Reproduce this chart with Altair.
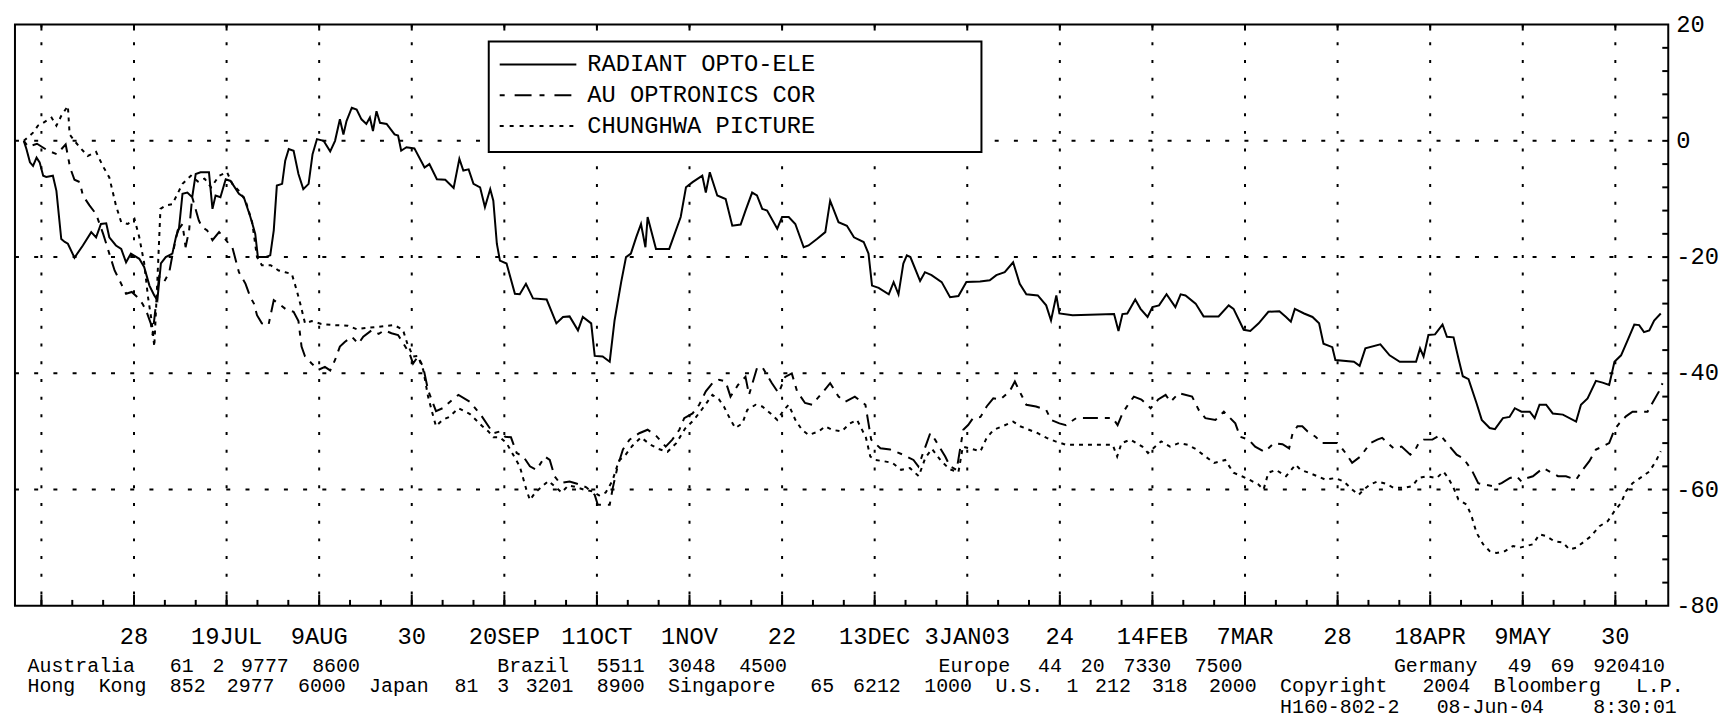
import altair as alt
import pandas as pd

# ---------------- data (day offset from 7 Jun 2002, % change) ----------------
BASE_DATE = "2002-06-07"
SERIES_NAMES = ["RADIANT OPTO-ELE", "AU OPTRONICS COR", "CHUNGHWA PICTURE"]

RADIANT = [(-4, 0), (-3.4, -1.4), (-2.6, -3.7), (-1.9, -4.3), (-1.1, -2.9), (-0.4, -3.7), (0.4, -6), (1.1, -6.2),
           (2.6, -6), (3.4, -8.6), (4.5, -16.9), (5.3, -17.4), (6, -17.7), (7.5, -20.1), (9.4, -18), (11.3, -15.7),
           (12.4, -16.6), (13.5, -14.3), (14.7, -14.2), (15.4, -16.6), (16.9, -18), (18.1, -18.6), (19.2, -20.9),
           (20.3, -19.4), (22.2, -20.3), (23.3, -21.7), (24.5, -24.9), (25.6, -26.6), (26.3, -27.4), (27.1, -21.1),
           (28.2, -20), (29.7, -19.4), (30.5, -16.6), (31.2, -15.1), (32, -9.1), (33.1, -8.9), (34.2, -9.7),
           (35, -5.7), (36.1, -5.4), (38, -5.4), (38.8, -11.7), (39.5, -9.4), (40.6, -9.7), (41.8, -6.6),
           (42.9, -6.9), (44.8, -9.1), (45.9, -9.7), (47.4, -13.1), (48.5, -16), (49.1, -20), (50.8, -20),
           (51.9, -19.7), (52.7, -15.4), (53.4, -7.7), (54.6, -7.4), (55.3, -3.4), (56.1, -1.4), (57.2, -1.7),
           (58.3, -5.7), (59.4, -8.3), (60.6, -7.4), (61.5, -2.3), (62.5, 0.3), (64, 0), (65.5, -1.8), (66.6, 0),
           (67.7, 3.7), (68.5, 1.1), (69.2, 3.4), (70.4, 5.7), (71.5, 5.4), (72.6, 3.7), (73.7, 2.9), (74.5, 4),
           (75.2, 1.7), (76, 5.1), (76.8, 3.1), (78.3, 2.9), (80.1, 1.1), (80.9, 0.9), (81.6, -1.7), (82.8, -1.1),
           (84.6, -1.3), (86.9, -4.6), (88, -4), (89.7, -6.6), (91.6, -6.7), (93.5, -8.1), (94.8, -3.1),
           (95.7, -5.1), (96.9, -4.9), (98, -7.4), (99.5, -8), (100.6, -11.4), (101.8, -8.3), (102.5, -10.3),
           (103.3, -17.7), (104, -20.6), (105.5, -21.1), (107.4, -26.3), (108.5, -26.4), (109.9, -24.6),
           (111.5, -27.1), (114.6, -27.3), (116.8, -31.4), (118.3, -30.3), (119.8, -30.2), (121.7, -32.6),
           (122.8, -30.3), (124.7, -31.4), (125.5, -37), (127.3, -37.1), (128.9, -38), (130, -30.9),
           (131.5, -24.3), (132.6, -20), (133.7, -19.4), (134.9, -16.6), (136, -14.3), (137, -18.3),
           (137.5, -13.1), (139.4, -18.6), (142.4, -18.6), (145, -13.1), (146.2, -8), (147.7, -7.1), (149.9, -6),
           (150.7, -8.9), (151.6, -5.4), (153.3, -9.4), (155.2, -10), (156.7, -14.6), (158.6, -14.4), (159.7, -12),
           (161.2, -8.9), (162.3, -9.4), (163.5, -11.7), (164.6, -12), (166.9, -15.1), (168, -13.1),
           (169.5, -13.1), (171, -14.3), (172.9, -18.3), (174, -18), (175.9, -16.9), (177.8, -15.7),
           (178.9, -10.3), (180.8, -14), (182.7, -14.6), (184.3, -16.6), (186.5, -17.4), (187.6, -19.4),
           (188.4, -24.9), (189.9, -25.3), (192.2, -26.4), (193.3, -24.3), (194.4, -26.4), (195.5, -21.1),
           (196.3, -19.7), (197.1, -20), (199.3, -24.1), (200.4, -22.6), (201.9, -23.1), (204.2, -24.3),
           (206.1, -26.9), (208, -26.7), (209.8, -24.3), (212.9, -24.2), (215.1, -24), (216.6, -23.1),
           (218.5, -22.6), (220.4, -20.9), (221.9, -24.6), (223.4, -26.4), (226, -26.6), (227.9, -28.3),
           (229, -30.9), (230.2, -26.6), (230.9, -29.7), (233.9, -30), (243.3, -29.8), (244.3, -32.7),
           (245.2, -29.8), (246.3, -29.7), (248.1, -27.3), (249.3, -28.9), (250.9, -30.3), (252, -28.6),
           (253.5, -28.3), (255.2, -26.4), (257.2, -28.6), (258.4, -26.4), (259.5, -26.6), (261.8, -28),
           (263.6, -30.2), (267, -30.2), (269.3, -28.3), (270.4, -28.9), (272.7, -32.5), (274.2, -32.7),
           (276.1, -31.4), (278.3, -29.4), (280.8, -29.3), (282.3, -30.3), (283.4, -31.1), (284.3, -28.9),
           (286.4, -29.7), (288.3, -30.3), (289.8, -31.4), (290.8, -34.9), (292.8, -35.5), (293.5, -37.7),
           (297.7, -38), (299, -38.7), (300.3, -35.7), (303.7, -35), (305.8, -36.9), (308.1, -38), (311.8, -38),
           (312.7, -35.7), (313.5, -37.1), (314.6, -33.4), (316.1, -33.3), (317.8, -31.6), (318.8, -33.7),
           (320.3, -33.8), (321.4, -37.4), (322.4, -40.5), (323.7, -41), (325.5, -45.1), (326.7, -48),
           (328.5, -49.4), (329.7, -49.6), (331.5, -47.7), (333, -47.5), (334.2, -46), (335.7, -46.6),
           (337.6, -46.6), (338.7, -47.7), (339.8, -45.4), (341.3, -45.4), (342.8, -46.9), (345.1, -47.1),
           (348.1, -48.3), (349.2, -45.4), (350.7, -44.3), (352.6, -41.3), (354.1, -41.6), (355.6, -42),
           (356.8, -38), (358.3, -36.9), (359.8, -34.3), (361.3, -31.6), (362.4, -31.7), (363.5, -32.9),
           (364.7, -32.6), (365.8, -30.9), (367.3, -29.7)]

AU_OPTRONICS = [(-4, 0), (-3, -1), (-1, -0.5), (1.5, -1.7), (3.5, -2.3), (5.5, -0.6), (6.5, -4.6), (7.5, -6.7),
                (8.7, -7.1), (9.4, -9.4), (10.9, -11.1), (12.4, -12.6), (14, -16), (15.4, -19.4), (16.6, -22.3),
                (18.1, -24.6), (19.2, -26.3), (20.5, -26), (21.8, -26.9), (22.9, -28), (23.7, -29.1),
                (24.8, -31.4), (25.2, -33.4), (26, -28), (26.7, -23.4), (27.8, -24.3), (29, -22.6), (29.7, -19.7),
                (30.9, -15.4), (32, -14.3), (32.7, -18.3), (33.5, -15.4), (34.2, -9.7), (35.7, -13.7),
                (36.5, -14.9), (37.6, -15.4), (38.8, -17.1), (40.3, -15.7), (41.4, -16.6), (42.5, -17.7),
                (43.3, -18.3), (44.8, -22.6), (46.3, -24.6), (47.4, -26.9), (48.2, -28), (48.9, -30), (50, -31.4),
                (51.5, -31.7), (52.7, -27.4), (53.8, -28), (55.5, -29), (57.2, -29.4), (58.3, -31), (59, -35.4),
                (59.8, -37.1), (61.3, -38.3), (62.8, -39.4), (64.3, -38.9), (65.5, -39.5), (66.6, -37.7),
                (67.7, -35.4), (68.8, -34.6), (70.4, -33.7), (71.9, -34.9), (73, -33.7), (74.9, -32.6),
                (76.5, -33.2), (77.8, -32.6), (79.4, -33.1), (80.9, -33.4), (82.2, -35), (83.5, -36.6),
                (84.3, -38.3), (85.4, -37.1), (86.6, -38.9), (87.7, -42.9), (88.5, -44.5), (89.5, -46.5),
                (91, -46), (92.5, -45), (94.6, -43.7), (97.2, -44.9), (99.9, -47.4), (101.4, -49.1),
                (102.5, -50.3), (104, -50), (105.2, -50.9), (106.5, -51), (107.8, -53.7), (109.3, -54.3),
                (110.8, -56), (112.3, -56.6), (114.2, -54.3), (115.3, -54.9), (116.4, -57.7), (117.6, -58.9),
                (119.8, -58.6), (121.5, -59), (123.6, -59.6), (125.5, -60.9), (126.2, -62.6), (128.9, -62.6),
                (129.6, -59.7), (130.7, -56), (131.9, -53.1), (133.4, -51.4), (135.6, -50.3), (137.5, -49.7),
                (139.5, -50.8), (141.6, -52.6), (143.1, -51.4), (144.7, -49.7), (145.8, -47.7), (147.7, -46.9),
                (149.2, -45.4), (150.7, -43.1), (152.2, -41.7), (153.7, -41.1), (155.2, -41.4), (156.3, -44),
                (158, -42), (159.7, -40.6), (160.5, -43.7), (162.3, -39.1), (163.5, -38.9), (165.7, -41.7),
                (167.2, -43.4), (168.7, -40.6), (170.2, -40), (171.4, -43.1), (173.2, -45.1), (174.8, -45.4),
                (177.4, -43.1), (178.9, -41.7), (180.8, -44), (182.3, -44.9), (184.5, -44), (186.9, -45.4),
                (187.6, -48.6), (188.2, -51.4), (190.3, -52.9), (192.5, -53.1), (195.5, -54), (197.8, -54.9),
                (198.9, -56), (199.7, -54.3), (200.8, -52), (201.6, -50.3), (202.7, -51.4), (205, -54.3),
                (206.1, -56), (207.6, -56.6), (209.1, -49.7), (210.2, -48.9), (211.3, -47.7), (213, -47.5),
                (214.4, -45.7), (215.9, -44.3), (217.5, -44.5), (219.6, -43.1), (220.8, -41.4), (221.8, -43),
                (223.4, -45.4), (225.6, -45.7), (227.9, -46.3), (229, -48), (230.9, -48.6), (232.4, -48.9),
                (234.7, -47.7), (240, -47.7), (243, -47.7), (244.1, -48.9), (245.2, -46.9), (246.7, -45.1),
                (247.8, -44), (249.5, -44.5), (251.6, -46), (253.3, -44.5), (255, -43.7), (256.1, -44.9),
                (258, -43.4), (261, -44), (262.5, -46.3), (264, -47.7), (266.3, -48), (268.2, -46.6),
                (270.8, -48.6), (271.9, -50.9), (273.8, -51.4), (275.3, -52.6), (277.4, -53.5), (279.6, -52),
                (281.5, -52.2), (283, -52.9), (283.8, -50.3), (284.9, -49.1), (286, -49.1), (287.2, -50),
                (289, -50.9), (290.5, -52), (293.9, -52), (295, -52.9), (295.8, -53.7), (297.3, -55.4),
                (299.2, -54.3), (301.4, -52), (303, -51.4), (304.1, -51.1), (306.7, -52.9), (308.5, -52.6),
                (310.5, -54), (311.5, -53.3), (312.4, -52), (313.5, -51.4), (315.5, -51.4), (317.3, -50.6),
                (318.8, -52), (321, -54), (322.5, -54.6), (324.4, -56.6), (325.9, -58.9), (327, -59.1),
                (329.3, -59.4), (331.2, -58.9), (333.1, -58), (334.6, -57.7), (335.7, -58.6), (337, -58),
                (338.3, -57.7), (340.6, -56.3), (342.1, -56.9), (344, -57.7), (345.8, -57.7), (348.1, -58.3),
                (349.6, -56.6), (351.1, -55.1), (352.6, -53.1), (354.1, -52.6), (355.6, -52), (356.8, -49.7),
                (357.9, -48.6), (359.4, -47.4), (360.9, -46.6), (364.3, -46.6), (365.4, -45.1), (366.9, -43.1),
                (367.7, -41.7)]

CHUNGHWA = [(-4, 0), (-1.9, 1.4), (-0.8, 2.6), (0.4, 3.1), (2.3, 4), (3.4, 2.6), (4.5, 4.3), (6, 6), (6.4, 1.1),
            (7.5, 0), (8.7, -1.1), (10.5, -2.6), (12.4, -1.9), (13.9, -4.3), (15.4, -6.3), (16.9, -11.1),
            (18.1, -14), (19.6, -14.3), (21.1, -13.4), (22.2, -16.6), (23.3, -21), (24.2, -27), (25, -31),
            (25.6, -35.4), (26.3, -24), (27, -11.7), (28.2, -11.1), (29.7, -10.9), (31.2, -8.6), (32, -7.4),
            (33.9, -6), (35.5, -7), (37, -6.5), (38.5, -8), (40.3, -6), (42.1, -5.4), (43.3, -7.4), (44.8, -8.6),
            (46.3, -10.3), (47, -12), (47.8, -14), (48.9, -20), (50, -21.4), (52, -21.4), (53.8, -22.3),
            (55.3, -22.6), (56.8, -22.9), (57.9, -25.7), (58.7, -28), (59.8, -31.4), (61.3, -31), (63.5, -31.5),
            (66.5, -31.7), (69.5, -31.8), (71.5, -32.4), (73.5, -32.2), (76.5, -32), (80, -31.7), (82, -32.5),
            (83, -34.9), (84.3, -37.1), (85.4, -37), (86.6, -39.4), (87.7, -44), (88.7, -46.9), (89.5, -49.1),
            (91, -48), (92.5, -47.5), (94.6, -46), (97.2, -47), (99.9, -49), (101.4, -50), (102.5, -51),
            (104, -51), (105.5, -52), (107, -54), (108.5, -56), (110, -60), (110.8, -61.8), (112, -60.5),
            (113.5, -59.5), (115, -58.5), (116.5, -59.5), (118, -60.5), (119.5, -59.3), (121, -59.5), (123, -60),
            (125, -60.3), (126.5, -61), (128, -60.5), (129.5, -58.5), (131, -55), (132.5, -54), (134, -52.5),
            (136, -51), (138, -52.2), (140, -53), (142, -53.5), (144, -52), (146, -49.5), (148, -48), (150, -46),
            (152.2, -43.7), (153.7, -44.5), (154.8, -45.7), (156.3, -48), (157.4, -49.4), (159, -48.6),
            (160.1, -46.3), (162, -45.4), (163.5, -45.7), (165.7, -47.1), (166.9, -48), (168.4, -46.3),
            (169.5, -45.4), (171, -48), (172.5, -49.7), (174, -50.6), (176.3, -50), (177.8, -49.1), (179.3, -49.7),
            (181.5, -50), (183.4, -48.6), (185, -48), (187, -51), (188, -54.3), (189, -54.9), (191, -55.1),
            (193, -55.4), (195, -56.6), (197, -56.3), (199, -57.7), (200.5, -54.5), (202, -53), (204, -55),
            (206, -56.5), (208, -57), (209, -52.6), (211, -53), (213, -53.4), (214.4, -51.1), (216, -49.7),
            (218, -49.1), (220.4, -48.3), (222, -49.1), (224, -49.7), (226, -50.3), (228, -51.1), (230, -51.7),
            (232.4, -52.3), (243, -52.3), (244, -54.3), (245, -52), (247, -51.4), (249.7, -52.6), (251, -53.7),
            (254, -51.7), (256, -52.6), (258, -52), (260, -52.3), (262, -53.1), (264, -54.3), (266, -55.4),
            (268.5, -54.9), (270.4, -57.1), (272.3, -57.7), (274, -58.3), (276, -59.1), (277.2, -60),
            (278.3, -57.1), (280, -56.6), (282.3, -57.7), (284.5, -55.7), (285.6, -56.6), (287.5, -57.1),
            (289.4, -57.7), (291.3, -58.3), (293.5, -58), (295.4, -58.6), (297.3, -60), (298.8, -60.9),
            (299.9, -60), (301.4, -59.1), (303, -58.6), (305, -59), (306.7, -59.7), (309, -59.7), (310.9, -59.4),
            (312.4, -58), (314.2, -57.7), (316.5, -58), (318, -56.9), (319.1, -58), (320.3, -59.7), (321.4, -61.7),
            (323.3, -62.6), (324.4, -64.6), (325.5, -67.4), (327, -69.4), (328.5, -70.6), (330, -70.9),
            (331.9, -70.6), (333.8, -69.7), (335.3, -70), (336.8, -69.7), (338.3, -69.4), (339.8, -67.7),
            (341.3, -68), (343.2, -68.9), (345.1, -69.1), (346.6, -70.3), (348.1, -70), (350, -68.9), (351.5, -68),
            (353.4, -66.3), (355.3, -65.4), (356.8, -63.7), (358.3, -62.3), (359.4, -60.3), (360.9, -58.9),
            (363.2, -57.7), (364.7, -56.9), (366.2, -55.1), (367.3, -53.4)]

TICK_DATES = ["2002-06-07", "2002-06-28", "2002-07-19", "2002-08-09", "2002-08-30", "2002-09-20", "2002-10-11",
              "2002-11-01", "2002-11-22", "2002-12-13", "2003-01-03", "2003-01-24", "2003-02-14", "2003-03-07",
              "2003-03-28", "2003-04-18", "2003-05-09", "2003-05-30"]
TICK_LABELS = ["", "28", "19JUL", "9AUG", "30", "20SEP", "11OCT", "1NOV", "22", "13DEC", "3JAN03", "24",
               "14FEB", "7MAR", "28", "18APR", "9MAY", "30"]
Y_TICKS = [20, 0, -20, -40, -60, -80]
Y_TICK_LABELS = ["20", "0", "-20", "-40", "-60", "-80"]
Y_GRID = [0, -20, -40, -60]

# footer words with their character column in the fixed-pitch footer
FOOTER_1 = [("Australia", 0), ("61", 10), ("2", 13), ("9777", 15), ("8600", 20),
            ("Brazil", 33), ("5511", 40), ("3048", 45), ("4500", 50),
            ("Europe", 64), ("44", 71), ("20", 74), ("7330", 77), ("7500", 82),
            ("Germany", 96), ("49", 104), ("69", 107), ("920410", 110)]
FOOTER_2 = [("Hong", 0), ("Kong", 5), ("852", 10), ("2977", 14), ("6000", 19), ("Japan", 24), ("81", 30),
            ("3", 33), ("3201", 35), ("8900", 40), ("Singapore", 45), ("65", 55), ("6212", 58), ("1000", 63),
            ("U.S.", 68), ("1", 73), ("212", 75), ("318", 79), ("2000", 83), ("Copyright", 88), ("2004", 98),
            ("Bloomberg", 103), ("L.P.", 113)]
FOOTER_3 = [("H160-802-2", 88), ("08-Jun-04", 99), ("8:30:01", 110)]

# ---------------- layout / style ----------------
W, H = 1661, 584
FONT = "Liberation Mono"
FS = 23.85
FOOT_FS = 20
PITCH = 14.3
FOOT_X0 = 12.6
FOOT_Y = [H + 60, H + 81, H + 101.5]

ONE = pd.DataFrame({"k": [0]})


def iso(day):
    t = pd.Timestamp(BASE_DATE) + pd.Timedelta(days=float(day))
    return t.strftime("%Y-%m-%dT%H:%M:%SZ")


X_SCALE = alt.Scale(type="utc", domain=[alt.DateTime(year=2002, month=6, date=1, utc=True),
                                        alt.DateTime(year=2003, month=6, date=11, utc=True)])
Y_SCALE = alt.Scale(domain=[-80, 20], nice=False, zero=False)


def xenc(field="date"):
    return alt.X(f"{field}:T", scale=X_SCALE, axis=None)


def yenc(field="value"):
    return alt.Y(f"{field}:Q", scale=Y_SCALE, axis=None)


def series_layer(pairs, dash):
    df = pd.DataFrame({"date": [iso(d) for d, _ in pairs], "value": [v for _, v in pairs],
                       "i": list(range(len(pairs)))})
    kw = dict(color="black", strokeWidth=2, strokeJoin="miter")
    if dash:
        kw["strokeDash"] = dash
    return alt.Chart(df).mark_line(**kw).encode(x=xenc(), y=yenc(), order="i:Q")


def word_layer(words, x0, pitch, y, size):
    df = pd.DataFrame({"word": [w for w, _ in words], "px": [x0 + c * pitch for _, c in words]})
    return alt.Chart(df).mark_text(font=FONT, fontSize=size, color="black", align="left",
                                   baseline="middle").encode(
        x=alt.X("px:Q", scale=None, axis=None), y=alt.value(y), text="word:N")


major_df = pd.DataFrame({"date": [d + "T00:00:00Z" for d in TICK_DATES], "label": TICK_LABELS})
minor_dates = pd.date_range("2002-06-07", "2003-06-06", freq="7D")
minor_df = pd.DataFrame({"date": [d.strftime("%Y-%m-%dT00:00:00Z") for d in minor_dates]})
rtick_df = pd.DataFrame({"value": list(range(-76, 20, 4))})
hgrid_df = pd.DataFrame({"value": Y_GRID})
ylab_df = pd.DataFrame({"value": Y_TICKS, "label": Y_TICK_LABELS})

vgrid = alt.Chart(major_df).mark_rule(color="black", strokeWidth=2, strokeDash=[3, 14.8]).encode(
    x=xenc(), y=alt.value(0), y2=alt.value(H))
hgrid = alt.Chart(hgrid_df).mark_rule(color="black", strokeWidth=2, strokeDash=[4, 15.3]).encode(
    y=yenc(), x=alt.value(0), x2=alt.value(W))
minor_ticks = alt.Chart(minor_df).mark_rule(color="black", strokeWidth=2).encode(
    x=xenc(), y=alt.value(H), y2=alt.value(H - 6))
major_ticks = alt.Chart(major_df).mark_rule(color="black", strokeWidth=2).encode(
    x=xenc(), y=alt.value(H), y2=alt.value(H - 11))
top_ticks = alt.Chart(major_df).mark_rule(color="black", strokeWidth=2).encode(
    x=xenc(), y=alt.value(0), y2=alt.value(6))
right_ticks = alt.Chart(rtick_df).mark_rule(color="black", strokeWidth=2).encode(
    y=yenc(), x=alt.value(W - 6), x2=alt.value(W))

x_labels = alt.Chart(major_df).mark_text(font=FONT, fontSize=FS, color="black", align="center",
                                          baseline="middle").encode(
    x=xenc(), y=alt.value(H + 31), text="label:N")
y_labels = alt.Chart(ylab_df).mark_text(font=FONT, fontSize=FS, color="black", align="left",
                                         baseline="middle").encode(
    y=yenc(), x=alt.value(W + 8), text="label:N")

DASHES = [None, [5, 7, 15, 7], [4, 5]]
LEG_DASHES = [None, [5, 10, 17, 8], [4, 6]]
lines = [series_layer(RADIANT, DASHES[0]),
         series_layer(AU_OPTRONICS, DASHES[1]),
         series_layer(CHUNGHWA, DASHES[2])]

legend_box = alt.Chart(ONE).mark_rect(fill="white", stroke="black", strokeWidth=2).encode(
    x=alt.value(476), x2=alt.value(971), y=alt.value(17), y2=alt.value(128))
legend_layers = [legend_box]
LEG_Y = [40, 71, 102]
LEG_PITCH = FS * 0.6
for name, dash, ly in zip(SERIES_NAMES, LEG_DASHES, LEG_Y):
    kw = dict(color="black", strokeWidth=2)
    if dash:
        kw["strokeDash"] = dash
    legend_layers.append(alt.Chart(ONE).mark_rule(**kw).encode(
        x=alt.value(487), x2=alt.value(564), y=alt.value(ly)))
    words, col = [], 0
    for w in name.split(" "):
        words.append((w, col))
        col += len(w) + 1
    legend_layers.append(word_layer(words, 575, LEG_PITCH, ly, FS))

footer_layers = [word_layer(words, FOOT_X0, PITCH, fy, FOOT_FS)
                 for words, fy in zip([FOOTER_1, FOOTER_2, FOOTER_3], FOOT_Y)]

chart = alt.layer(
    vgrid, hgrid, minor_ticks, major_ticks, top_ticks, right_ticks,
    *lines, *legend_layers, x_labels, y_labels, *footer_layers
).properties(
    width=W, height=H,
    padding={"left": 7, "top": 15, "right": 54, "bottom": 112},
    autosize=alt.AutoSizeParams(type="none"),
    background="white",
).configure_view(stroke="black", strokeWidth=2)

chart.save("out.html", embed_options={"renderer": "svg", "actions": False})
